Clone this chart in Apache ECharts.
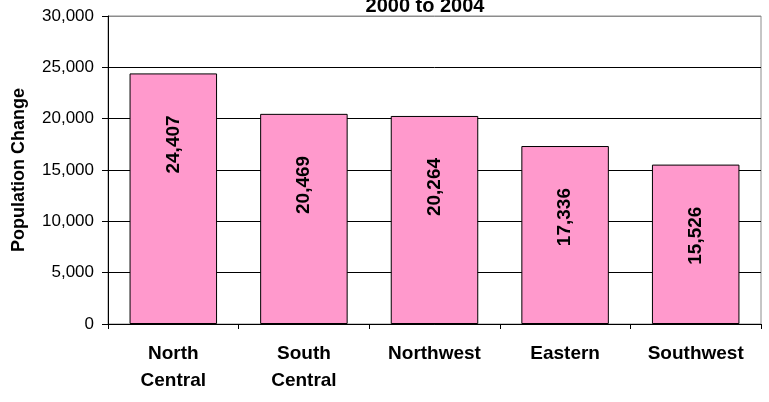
<!DOCTYPE html>
<html>
<head>
<meta charset="utf-8">
<script src="https://cdn.jsdelivr.net/npm/echarts@6/dist/echarts.min.js"></script>
<style>
	html, body { margin: 0; padding: 0; background: #fff; }
	#main { width: 769px; height: 402px; }
</style>
</head>
<body>
<div id="main"></div>
<script>
	var regions = ['North\nCentral', 'South\nCentral', 'Northwest', 'Eastern', 'Southwest'];
	var popChange = [24407, 20469, 20264, 17336, 15526];
	var yTicks = [0, 5000, 10000, 15000, 20000, 25000, 30000];

	var myChart = echarts.init(document.getElementById('main'));

	function fmt(v) {
		return String(v).replace(/\B(?=(\d{3})+(?!\d))/g, ',');
	}

	// gridlines black, the top one sits on the grey plot border
	var gridColors = yTicks.map(function(v, i) {
		return i === yTicks.length - 1 ? '#8c8c8c' : '#000';
	});

	var option = {
		backgroundColor: '#ffffff',
		animation: false,
		title: {
			text: '2000 to 2004',
			left: 420,
			textAlign: 'center',
			top: -9,
			textStyle: {
				fontFamily: 'Liberation Sans',
				fontWeight: 'bold',
				fontSize: 20,
				color: '#000'
			}
		},
		grid: {
			left: 108,
			right: 8,
			top: 16,
			bottom: 78,
			show: true,
			borderColor: '#8c8c8c',
			borderWidth: 1,
			backgroundColor: 'transparent'
		},
		xAxis: [{
			type: 'category',
			data: regions,
			axisLine: {
				lineStyle: { color: '#000', width: 1 }
			},
			axisTick: {
				show: true,
				length: 5,
				lineStyle: { color: '#000' }
			},
			axisLabel: {
				color: '#000',
				fontFamily: 'Liberation Sans',
				fontWeight: 'bold',
				fontSize: 19,
				lineHeight: 27,
				margin: 16
			}
		}],
		yAxis: [{
			type: 'value',
			min: yTicks[0],
			max: yTicks[yTicks.length - 1],
			interval: 5000,
			name: 'Population Change',
			nameLocation: 'middle',
			nameGap: 80,
			nameTextStyle: {
				color: '#000',
				fontFamily: 'Liberation Sans',
				fontWeight: 'bold',
				fontSize: 18
			},
			axisLine: {
				show: true,
				lineStyle: { color: '#000' }
			},
			axisTick: {
				show: true,
				length: 6,
				lineStyle: { color: '#000' }
			},
			axisLabel: {
				color: '#000',
				fontFamily: 'Liberation Sans',
				fontSize: 17,
				margin: 14,
				formatter: function(v) { return fmt(v); }
			},
			splitLine: {
				lineStyle: { color: gridColors, width: 1 }
			}
		}],
		series: [{
			type: 'bar',
			data: popChange,
			barCategoryGap: '33%',
			itemStyle: {
				color: '#FF99CC',
				borderColor: '#000',
				borderWidth: 1
			},
			label: {
				show: true,
				position: 'insideTop',
				distance: 42,
				rotate: 90,
				align: 'right',
				verticalAlign: 'middle',
				color: '#000',
				fontFamily: 'Liberation Sans',
				fontWeight: 'bold',
				fontSize: 19,
				formatter: function(p) { return fmt(p.value); }
			}
		}]
	};
	myChart.setOption(option);
</script>
</body>
</html>
